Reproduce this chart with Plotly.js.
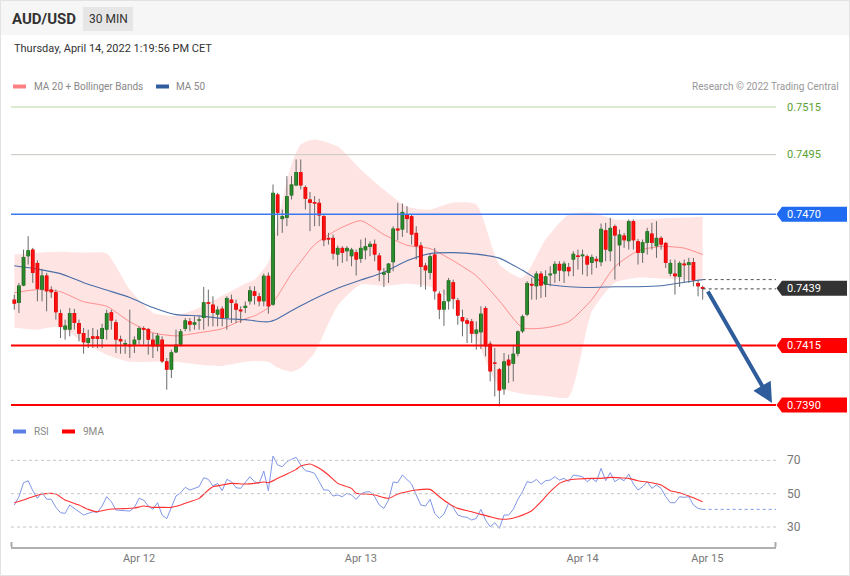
<!DOCTYPE html>
<html><head><meta charset="utf-8">
<script src="https://cdn.plot.ly/plotly-3.0.1.min.js"></script>
<style>html,body{margin:0;padding:0;background:#fff}#chart{width:850px;height:576px}</style>
</head><body><div id="chart"></div>
<script>
// ---------- DATA ----------
const candleOpen = [0.74342,0.74328,0.74401,0.74524,0.74552,0.74496,0.74384,0.74443,0.74384,0.74373,
0.74286,0.74216,0.74216,0.74286,0.74244,0.74202,0.74160,0.74188,0.74188,0.74177,
0.74216,0.74289,0.74247,0.74177,0.74153,0.74153,0.74153,0.74174,0.74223,0.74219,
0.74174,0.74146,0.74174,0.74083,0.74048,0.74121,0.74153,0.74219,0.74251,0.74237,
0.74255,0.74265,0.74331,0.74321,0.74279,0.74304,0.74265,0.74342,0.74325,0.74300,
0.74307,0.74335,0.74377,0.74356,0.74335,0.74442,0.74321,0.74783,0.74680,0.74685,
0.74779,0.74821,0.74877,0.74814,0.74762,0.74751,0.74748,0.74692,0.74601,0.74601,
0.74531,0.74559,0.74545,0.74524,0.74541,0.74513,0.74549,0.74563,0.74576,0.74527,
0.74447,0.74454,0.74499,0.74640,0.74636,0.74699,0.74692,0.74622,0.74569,0.74485,
0.74454,0.74531,0.74367,0.74300,0.74335,0.74415,0.74339,0.74269,0.74255,0.74251,
0.74199,0.74205,0.74307,0.74157,0.74078,0.74050,0.73966,0.74090,0.74073,0.74115,
0.74209,0.74279,0.74408,0.74398,0.74451,0.74405,0.74444,0.74451,0.74492,0.74461,
0.74479,0.74510,0.74527,0.74524,0.74524,0.74496,0.74513,0.74499,0.74633,0.74545,
0.74650,0.74570,0.74611,0.74587,0.74671,0.74587,0.74538,0.74580,0.74619,0.74566,
0.74601,0.74580,0.74451,0.74451,0.74437,0.74493,0.74487,0.74499,0.74412,0.74395];
const candleHigh = [0.74363,0.74412,0.74552,0.74608,0.74559,0.74507,0.74471,0.74454,0.74398,0.74384,
0.74300,0.74258,0.74307,0.74303,0.74258,0.74223,0.74216,0.74223,0.74216,0.74241,
0.74300,0.74300,0.74258,0.74191,0.74174,0.74300,0.74188,0.74230,0.74230,0.74223,
0.74202,0.74202,0.74188,0.74097,0.74132,0.74216,0.74219,0.74265,0.74265,0.74272,
0.74272,0.74395,0.74384,0.74356,0.74314,0.74314,0.74356,0.74363,0.74342,0.74314,
0.74334,0.74398,0.74398,0.74370,0.74451,0.74456,0.74825,0.74790,0.74720,0.74860,
0.74860,0.74930,0.74930,0.74821,0.74793,0.74776,0.74765,0.74699,0.74622,0.74615,
0.74569,0.74566,0.74566,0.74559,0.74552,0.74594,0.74601,0.74587,0.74594,0.74538,
0.74475,0.74496,0.74650,0.74748,0.74745,0.74734,0.74699,0.74650,0.74583,0.74496,
0.74538,0.74559,0.74377,0.74384,0.74433,0.74426,0.74349,0.74300,0.74265,0.74261,
0.74251,0.74314,0.74314,0.74167,0.74139,0.74055,0.74118,0.74111,0.74153,0.74213,
0.74279,0.74419,0.74433,0.74461,0.74461,0.74465,0.74482,0.74503,0.74503,0.74503,
0.74496,0.74545,0.74552,0.74552,0.74531,0.74531,0.74524,0.74661,0.74664,0.74685,
0.74657,0.74636,0.74622,0.74678,0.74678,0.74597,0.74594,0.74643,0.74664,0.74671,
0.74608,0.74583,0.74510,0.74510,0.74503,0.74510,0.74517,0.74517,0.74426,0.74401];
const candleLow = [0.74300,0.74286,0.74398,0.74489,0.74412,0.74335,0.74335,0.74293,0.74349,0.74258,
0.74181,0.74174,0.74188,0.74216,0.74167,0.74115,0.74139,0.74139,0.74139,0.74139,
0.74174,0.74216,0.74118,0.74115,0.74115,0.74097,0.74118,0.74153,0.74153,0.74111,
0.74097,0.74125,0.74076,0.73964,0.74013,0.74118,0.74146,0.74209,0.74209,0.74216,
0.74216,0.74216,0.74230,0.74230,0.74230,0.74230,0.74216,0.74244,0.74244,0.74244,
0.74286,0.74321,0.74321,0.74314,0.74314,0.74283,0.74316,0.74610,0.74622,0.74650,
0.74762,0.74818,0.74804,0.74720,0.74629,0.74650,0.74650,0.74566,0.74573,0.74510,
0.74482,0.74496,0.74503,0.74482,0.74443,0.74496,0.74510,0.74524,0.74503,0.74419,
0.74395,0.74412,0.74461,0.74591,0.74605,0.74622,0.74573,0.74510,0.74395,0.74384,
0.74426,0.74342,0.74260,0.74232,0.74300,0.74303,0.74237,0.74188,0.74160,0.74160,
0.74132,0.74135,0.74104,0.73999,0.73936,0.73894,0.73943,0.73992,0.73999,0.74104,
0.74202,0.74272,0.74342,0.74342,0.74349,0.74353,0.74398,0.74412,0.74419,0.74412,
0.74440,0.74440,0.74468,0.74447,0.74440,0.74447,0.74475,0.74482,0.74503,0.74503,
0.74426,0.74482,0.74559,0.74552,0.74552,0.74489,0.74496,0.74531,0.74552,0.74517,
0.74552,0.74475,0.74440,0.74363,0.74395,0.74412,0.74412,0.74398,0.74356,0.74342];
const candleClose = [0.74325,0.74401,0.74521,0.74549,0.74454,0.74387,0.74443,0.74377,0.74373,0.74289,
0.74227,0.74233,0.74286,0.74244,0.74199,0.74163,0.74181,0.74178,0.74177,0.74223,
0.74286,0.74254,0.74174,0.74167,0.74160,0.74146,0.74174,0.74223,0.74216,0.74174,
0.74146,0.74191,0.74083,0.74048,0.74121,0.74153,0.74209,0.74255,0.74237,0.74247,
0.74258,0.74331,0.74325,0.74286,0.74300,0.74265,0.74349,0.74328,0.74300,0.74293,
0.74316,0.74381,0.74358,0.74335,0.74442,0.74314,0.74790,0.74706,0.74692,0.74776,
0.74825,0.74877,0.74821,0.74765,0.74748,0.74745,0.74695,0.74591,0.74594,0.74535,
0.74559,0.74538,0.74559,0.74552,0.74510,0.74559,0.74566,0.74576,0.74531,0.74465,
0.74456,0.74493,0.74640,0.74632,0.74710,0.74680,0.74615,0.74566,0.74479,0.74465,
0.74524,0.74377,0.74300,0.74335,0.74423,0.74345,0.74275,0.74251,0.74241,0.74199,
0.74216,0.74283,0.74146,0.74041,0.74073,0.73961,0.74083,0.74066,0.74115,0.74209,
0.74272,0.74412,0.74401,0.74451,0.74401,0.74440,0.74451,0.74492,0.74464,0.74493,
0.74461,0.74534,0.74521,0.74531,0.74489,0.74521,0.74503,0.74639,0.74552,0.74643,
0.74611,0.74615,0.74591,0.74671,0.74591,0.74538,0.74583,0.74629,0.74580,0.74601,
0.74573,0.74496,0.74496,0.74440,0.74496,0.74486,0.74499,0.74423,0.74398,0.74387];

// moving averages / Bollinger bands, sampled at candle indices
const maIndex = [0,5,10,15,20,25,30,35,40,45,50,52,55,57,60,62,65,70,75,80,85,90,95,100,105,110,115,120,125,130,135,140,145,149];
const ma50 = [0.74484,0.74470,0.74451,0.74413,0.74382,0.74351,0.74309,0.74279,0.74274,0.74263,0.74258,0.74253,0.74249,0.74262,0.74295,0.74316,0.74346,0.74390,0.74424,0.74457,0.74505,0.74535,0.74539,0.74533,0.74516,0.74465,0.74409,0.74396,0.74393,0.74396,0.74396,0.74400,0.74415,0.74426];
const ma20 = [0.74371,0.74384,0.74375,0.74333,0.74314,0.74249,0.74203,0.74190,0.74203,0.74220,0.74262,0.74274,0.74308,0.74358,0.74451,0.74501,0.74573,0.74636,0.74673,0.74615,0.74570,0.74556,0.74505,0.74442,0.74337,0.74224,0.74224,0.74249,0.74342,0.74480,0.74547,0.74565,0.74558,0.74531];
const bbUpper = [0.74531,0.74539,0.74543,0.74539,0.74535,0.74384,0.74287,0.74274,0.74308,0.74358,0.74409,0.74426,0.74500,0.74669,0.74909,0.74993,0.75014,0.74984,0.74888,0.74804,0.74732,0.74720,0.74749,0.74741,0.74489,0.74434,0.74594,0.74699,0.74707,0.74678,0.74678,0.74682,0.74686,0.74690];
const bbLower = [0.74224,0.74216,0.74228,0.74161,0.74111,0.74081,0.74081,0.74081,0.74069,0.74064,0.74081,0.74085,0.74081,0.74056,0.74039,0.74056,0.74119,0.74316,0.74405,0.74400,0.74409,0.74396,0.74337,0.74174,0.73976,0.73947,0.73938,0.73934,0.74291,0.74413,0.74434,0.74430,0.74426,0.74421];

const rsi = [43.2,48.2,56.6,57.8,51.8,47.2,50.6,46.8,46.6,41.8,
38.6,38.2,43.2,41.2,39.2,37.2,38.2,39.2,38.8,42.6,
48.2,45.2,40.2,39.8,39.8,39.6,41.8,47.2,46.2,42.6,
40.6,44.6,37.2,35.0,42.2,48.6,50.6,53.8,52.2,53.2,
54.2,59.6,58.6,54.6,56.2,51.8,58.6,57.2,53.6,53.2,
56.6,60.2,57.2,56.2,63.6,51.8,72.6,67.2,66.2,69.2,
70.6,71.8,67.2,63.8,63.2,62.2,57.2,52.2,52.2,48.6,
49.2,48.2,50.2,49.2,46.6,49.8,51.0,51.2,48.2,43.2,
41.2,46.2,57.0,56.6,61.2,58.6,55.8,49.2,43.2,42.6,
46.6,38.2,35.2,37.8,44.2,41.8,37.2,36.2,35.8,34.2,
35.2,40.6,34.2,30.2,32.6,29.2,37.2,37.2,40.6,46.6,
51.2,57.2,56.6,58.6,55.6,57.8,58.2,60.2,58.2,59.2,
57.2,61.2,60.6,60.2,57.2,59.2,57.2,65.2,57.8,62.6,
57.2,59.2,57.8,61.8,55.8,52.2,54.2,57.2,53.2,55.2,
53.2,48.2,44.6,44.6,48.2,47.8,48.2,43.2,41.2,40.6];
const rsiMaIndex = [0,2,4,6,8,9,11,14,16,18,19,21,23,26,28,30,32,34,36,38,40,42,43,45,47,50,52,54,55,57,59,61,62,64,66,68,70,73,74,76,78,81,83,85,87,90,92,94,96,99,101,103,105,107,109,112,114,116,118,120,122,125,127,129,131,133,135,138,140,142,144,146,149];
const rsiMa9 = [44.6,46.2,48.2,49.8,50.2,49.8,46.2,43.2,40.6,39.2,39.8,40.8,41.0,41.4,42.6,41.8,41.8,41.8,43.2,45.2,47.2,52.2,54.2,55.2,56.2,55.8,56.2,57.0,56.6,59.2,61.8,64.6,66.6,67.8,65.2,61.2,56.2,53.2,50.2,49.8,49.2,47.2,49.8,51.2,52.2,52.6,48.2,44.2,41.2,39.2,37.6,36.2,34.8,34.8,36.2,39.8,45.2,51.2,56.2,58.2,58.8,59.2,59.2,59.8,59.6,59.2,57.8,56.6,55.2,51.8,50.6,48.6,45.2];

const tickPos = [27, 75, 123, 150];
const tickLabels = ['Apr 12', 'Apr 13', 'Apr 14', 'Apr 15'];
const levelPrices = [0.7515, 0.7495, 0.7470, 0.7439, 0.7415, 0.7390];
const levelLabels = ['0.7515', '0.7495', '0.7470', '0.7439', '0.7415', '0.7390'];
const rsiLevels = [70, 50, 30];

// ---------- BUILD ----------
const FONT = 'Roboto, Liberation Sans, Arial, sans-serif';
const PX = x => (x - 11) / 765;
const PY = y => (547 - y) / 452;
const n = candleOpen.length;
const idx = candleOpen.map((_, i) => i);

const wickX = [], wickY = [];
for (let i = 0; i < n; i++) { wickX.push(i, i, null); wickY.push(candleHigh[i], candleLow[i], null); }

// body segments (scatter so they sit above the band fill)
const minHalf = 0.000025;
function bodies(isUp) {
  const bx = [], by = [];
  for (let i = 0; i < n; i++) {
    const u = candleClose[i] >= candleOpen[i];
    if (u !== isUp) continue;
    let lo = Math.min(candleOpen[i], candleClose[i]), hi = Math.max(candleOpen[i], candleClose[i]);
    if (hi - lo < 2 * minHalf) { const m = (hi + lo) / 2; lo = m - minHalf; hi = m + minHalf; }
    bx.push(i, i, null); by.push(lo, hi, null);
  }
  return {bx, by};
}
const upB = bodies(true), dnB = bodies(false);

const traces = [
  {type:'scatter', mode:'lines', x: maIndex, y: bbLower, line:{width:0, shape:'spline', smoothing:0.6}, xaxis:'x', yaxis:'y'},
  {type:'scatter', mode:'lines', x: maIndex, y: bbUpper, line:{width:0, shape:'spline', smoothing:0.6}, fill:'tonexty', fillcolor:'rgba(255,190,190,0.42)', xaxis:'x', yaxis:'y'},
  {type:'scatter', mode:'lines', x: maIndex, y: ma20, line:{color:'#ff8c8c', width:1, shape:'spline', smoothing:0.6}, xaxis:'x', yaxis:'y'},
  {type:'scatter', mode:'lines', x: maIndex, y: ma50, line:{color:'#4a6ea8', width:1.1, shape:'spline', smoothing:0.6}, xaxis:'x', yaxis:'y'},
  {type:'scatter', mode:'lines', x: wickX, y: wickY, line:{color:'#6a6a6a', width:1}, xaxis:'x', yaxis:'y', connectgaps:false},
  {type:'scatter', mode:'lines', x: upB.bx, y: upB.by, line:{color:'#1e5a1e', width:3.8}, xaxis:'x', yaxis:'y', connectgaps:false},
  {type:'scatter', mode:'lines', x: upB.bx, y: upB.by, line:{color:'#2a8c2a', width:2.4}, xaxis:'x', yaxis:'y', connectgaps:false},
  {type:'scatter', mode:'lines', x: dnB.bx, y: dnB.by, line:{color:'#d40000', width:3.8}, xaxis:'x', yaxis:'y', connectgaps:false},
  {type:'scatter', mode:'lines', x: dnB.bx, y: dnB.by, line:{color:'#ff1010', width:2.4}, xaxis:'x', yaxis:'y', connectgaps:false},
  {type:'scatter', mode:'lines', x: idx, y: rsi, line:{color:'#7f96e8', width:1}, xaxis:'x2', yaxis:'y2'},
  {type:'scatter', mode:'lines', x: rsiMaIndex, y: rsiMa9, line:{color:'#ff3030', width:1.1, shape:'spline', smoothing:0.5}, xaxis:'x2', yaxis:'y2'}
];

const shapes = [];
const annotations = [];
// header band & border
shapes.push({type:'rect', xref:'paper', yref:'paper', x0:PX(0), x1:PX(850), y0:PY(35), y1:PY(0), fillcolor:'#f6f6f6', line:{width:0}, layer:'below'});
shapes.push({type:'rect', xref:'paper', yref:'paper', x0:PX(0.5), x1:PX(849.5), y0:PY(575.5), y1:PY(0.5), line:{color:'#e2e2e2', width:1}, layer:'below'});
shapes.push({type:'rect', xref:'paper', yref:'paper', x0:PX(83), x1:PX(133), y0:PY(31), y1:PY(7), fillcolor:'#e6e6e6', line:{width:0}});
// legend swatches
shapes.push({type:'rect', xref:'paper', yref:'paper', x0:PX(13), x1:PX(26), y0:PY(88.5), y1:PY(84.5), fillcolor:'#ff8080', line:{width:0}});
shapes.push({type:'rect', xref:'paper', yref:'paper', x0:PX(156), x1:PX(169), y0:PY(88.5), y1:PY(84.5), fillcolor:'#2f5d9e', line:{width:0}});
shapes.push({type:'rect', xref:'paper', yref:'paper', x0:PX(13), x1:PX(26), y0:PY(433.5), y1:PY(429.5), fillcolor:'#5b7fe6', line:{width:0}});
shapes.push({type:'rect', xref:'paper', yref:'paper', x0:PX(62), x1:PX(75), y0:PY(433.5), y1:PY(429.5), fillcolor:'#ff0000', line:{width:0}});

// level lines
const lineStyles = [
  {color:'#b8d6a2', width:1}, {color:'#c3c9bd', width:1}, {color:'#3a78f2', width:1.3},
  null, {color:'#ff0000', width:2}, {color:'#ff0000', width:2}
];
levelPrices.forEach((p, k) => {
  if (lineStyles[k]) shapes.push({type:'line', xref:'paper', yref:'y', x0:0, x1:1, y0:p, y1:p, line:lineStyles[k]});
});
// dotted extensions at the end
shapes.push({type:'line', xref:'x', yref:'y', x0:n-1, x1:164.87, y0:ma50[ma50.length-1], y1:ma50[ma50.length-1], line:{color:'#555', width:1, dash:'dot'}});
shapes.push({type:'line', xref:'x', yref:'y', x0:n-1, x1:164.87, y0:candleClose[n-1], y1:candleClose[n-1], line:{color:'#444', width:1, dash:'dot'}});

// price labels
const boxColors = [null, null, '#1f6cf3', '#333333', '#ff0000', '#ff0000'];
const pxPerPrice = 23840;
levelPrices.forEach((p, k) => {
  const yc = 405 - (p - 0.7390) * pxPerPrice;
  if (boxColors[k]) {
    const path = `M ${PX(776.5)},${PY(yc)} L ${PX(782)},${PY(yc-7.5)} L ${PX(847)},${PY(yc-7.5)} L ${PX(847)},${PY(yc+7.5)} L ${PX(782)},${PY(yc+7.5)} Z`;
    shapes.push({type:'path', xref:'paper', yref:'paper', path, fillcolor:boxColors[k], line:{width:0}});
  }
  annotations.push({xref:'paper', yref:'paper', x:PX(785), y:PY(yc), xanchor:'left', yanchor:'middle', showarrow:false,
    text: levelLabels[k], font:{family:FONT, size:11, color: boxColors[k] ? '#ffffff' : '#5aa132'}});
});

// RSI levels
rsiLevels.forEach(v => {
  shapes.push({type:'line', xref:'paper', yref:'y2', x0:0, x1:1, y0:v, y1:v, line:{color:'#c4c4c4', width:1, dash:'dot'}});
  annotations.push({xref:'paper', yref:'y2', x:PX(785), y:v, xanchor:'left', yanchor:'middle', showarrow:false, text:String(v), font:{family:FONT, size:12, color:'#777'}});
});
shapes.push({type:'line', xref:'x2', yref:'y2', x0:n-1, x1:164.87, y0:rsi[n-1], y1:rsi[n-1], line:{color:'#8098e8', width:1, dash:'dot'}});
// axis end ticks
shapes.push({type:'line', xref:'paper', yref:'paper', x0:PX(11.5), x1:PX(11.5), y0:PY(547), y1:PY(542), line:{color:'#aaa', width:2}});
shapes.push({type:'line', xref:'paper', yref:'paper', x0:PX(775.5), x1:PX(775.5), y0:PY(547), y1:PY(542), line:{color:'#aaa', width:2}});

// texts
const txt = (x, y, text, size, color, anchor, bold) => annotations.push({xref:'paper', yref:'paper', x:PX(x), y:PY(y), xanchor:anchor||'left', yanchor:'middle', showarrow:false,
  text: bold ? '<b>'+text+'</b>' : text, font:{family:FONT, size, color}});
txt(10, 19, 'AUD/USD', 15, '#333', 'left', true);
txt(108, 19, '30 MIN', 12, '#333', 'center');
txt(12, 48.5, 'Thursday, April 14, 2022 1:19:56 PM CET', 11, '#333');
txt(32, 86.5, 'MA 20 + Bollinger Bands', 10, '#888');
txt(174, 86.5, 'MA 50', 10, '#888');
txt(841, 86.5, 'Research © 2022 Trading Central', 10, '#999', 'right');
txt(32, 431.5, 'RSI', 10, '#888');
txt(81, 431.5, '9MA', 10, '#888');

// forecast arrow
annotations.push({xref:'paper', yref:'paper', x:PX(772), y:PY(403), ax:-65, ay:-113, text:'', showarrow:true,
  arrowhead:2, arrowsize:1, arrowwidth:4, arrowcolor:'#2f5d9c', standoff:0, startstandoff:0});

const layout = {
  width:850, height:576,
  margin:{l:11, r:74, t:95, b:29, pad:0},
  paper_bgcolor:'#ffffff', plot_bgcolor:'rgba(0,0,0,0)',
  showlegend:false, hovermode:false,
  font:{family:FONT},
  xaxis:{domain:[0,1], range:[-0.714, 164.87], anchor:'y', showgrid:false, zeroline:false, showticklabels:false, showline:false, ticks:''},
  yaxis:{domain:[0.29867,1], range:[0.738706, 0.752003], showgrid:false, zeroline:false, showticklabels:false, showline:false, ticks:''},
  xaxis2:{domain:[0,1], range:[-0.714, 164.87], anchor:'y2', showgrid:false, zeroline:false, showline:true, linecolor:'#b0b0b0', linewidth:2,
    tickmode:'array', tickvals:tickPos, ticktext:tickLabels, ticks:'', tickfont:{family:FONT, size:11, color:'#777'}},
  yaxis2:{domain:[0,0.23673], range:[18.03, 82.2], showgrid:false, zeroline:false, showticklabels:false, showline:false, ticks:''},
  shapes, annotations
};
Plotly.newPlot('chart', traces, layout, {staticPlot:true, displayModeBar:false});
</script>
</body></html>
